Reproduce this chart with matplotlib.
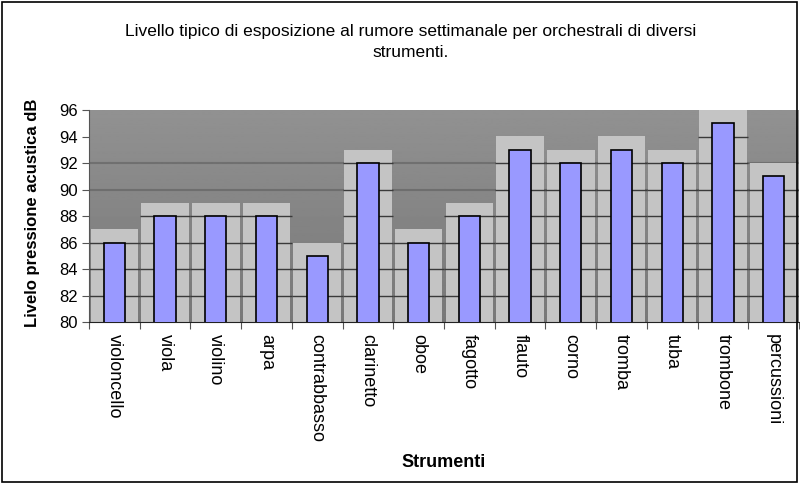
import matplotlib.pyplot as plt
import numpy as np
from matplotlib.patches import Rectangle

plt.rcParams['font.family'] = ['Liberation Sans', 'DejaVu Sans']

strumenti = ['violoncello', 'viola', 'violino', 'arpa', 'contrabbasso', 'clarinetto',
             'oboe', 'fagotto', 'flauto', 'corno', 'tromba', 'tuba', 'trombone', 'percussioni']
livello_db = [86, 88, 88, 88, 85, 92, 86, 88, 93, 92, 93, 92, 95, 91]
y_ticks = [80, 82, 84, 86, 88, 90, 92, 94, 96]

fig = plt.figure(figsize=(8, 4.86), dpi=100)
ax = fig.add_axes([89 / 800, 1 - 322 / 486, 710 / 800, 212 / 486])

n = len(strumenti)
x = np.arange(n)
ax.set_xlim(-0.5, n - 0.5)
ax.set_ylim(80, 96)

# gray gradient background of the plot area
grad = np.linspace(0.47, 0.57, 256).reshape(-1, 1)
ax.imshow(grad, cmap='gray', vmin=0, vmax=1, aspect='auto',
          extent=[-0.5, n - 0.5, 96, 80], zorder=0)
for yb in (90, 92):
    ax.axhline(yb, color='#5e5e5e', lw=1.5, alpha=0.6, zorder=0.5)

# light gray "depth" boxes behind each bar, with the grid drawn on them
for xi, v in zip(x, livello_db):
    ax.add_patch(Rectangle((xi - 0.47, 80), 0.94, v + 1 - 80,
                           facecolor='#c4c4c4', edgecolor='none', zorder=1))
    for yt in y_ticks[1:]:
        if yt < v + 1:
            ax.hlines(yt, xi - 0.5, xi + 0.5, color='#3a3a3a', lw=1, zorder=2)

ax.bar(x, livello_db, width=0.42, bottom=0, color='#9999ff',
       edgecolor='black', linewidth=1.2, zorder=3)

ax.set_yticks(y_ticks)
ax.set_yticklabels([str(t) for t in y_ticks], fontsize=12)
ax.set_xticks(x)
ax.set_xticklabels(strumenti, rotation=270, fontsize=13, va='top', ha='center')
ax.set_xticks(np.arange(n + 1) - 0.5, minor=True)
ax.tick_params(axis='x', which='major', length=0, pad=9)
ax.tick_params(axis='x', which='minor', length=5, direction='out', width=0.8, color='#555555')
ax.tick_params(axis='y', length=5, width=0.8, direction='out', color='#555555', pad=3)

for s in ['top', 'right']:
    ax.spines[s].set_visible(False)
ax.spines['left'].set_color('#555555')
ax.spines['bottom'].set_color('#222222')

fig.text(33 / 800, 1 - 213 / 486, 'Livelo pressione acustica dB', rotation=90,
         ha='center', va='center', fontsize=12, fontweight='bold')
fig.text(444 / 800, 1 - 462 / 486, 'Strumenti', ha='center', va='center',
         fontsize=13, fontweight='bold')
fig.text(411 / 800, 1 - 42 / 486,
         'Livello tipico di esposizione al rumore settimanale per orchestrali di diversi\nstrumenti.',
         ha='center', va='center', fontsize=12.5, linespacing=1.5)

fig.patches.append(Rectangle((2 / 800, 1 - 482 / 486), 795 / 800, 480 / 486,
                             transform=fig.transFigure, fill=False,
                             edgecolor='black', lw=1.2))

fig.savefig('out.png', dpi=100)
